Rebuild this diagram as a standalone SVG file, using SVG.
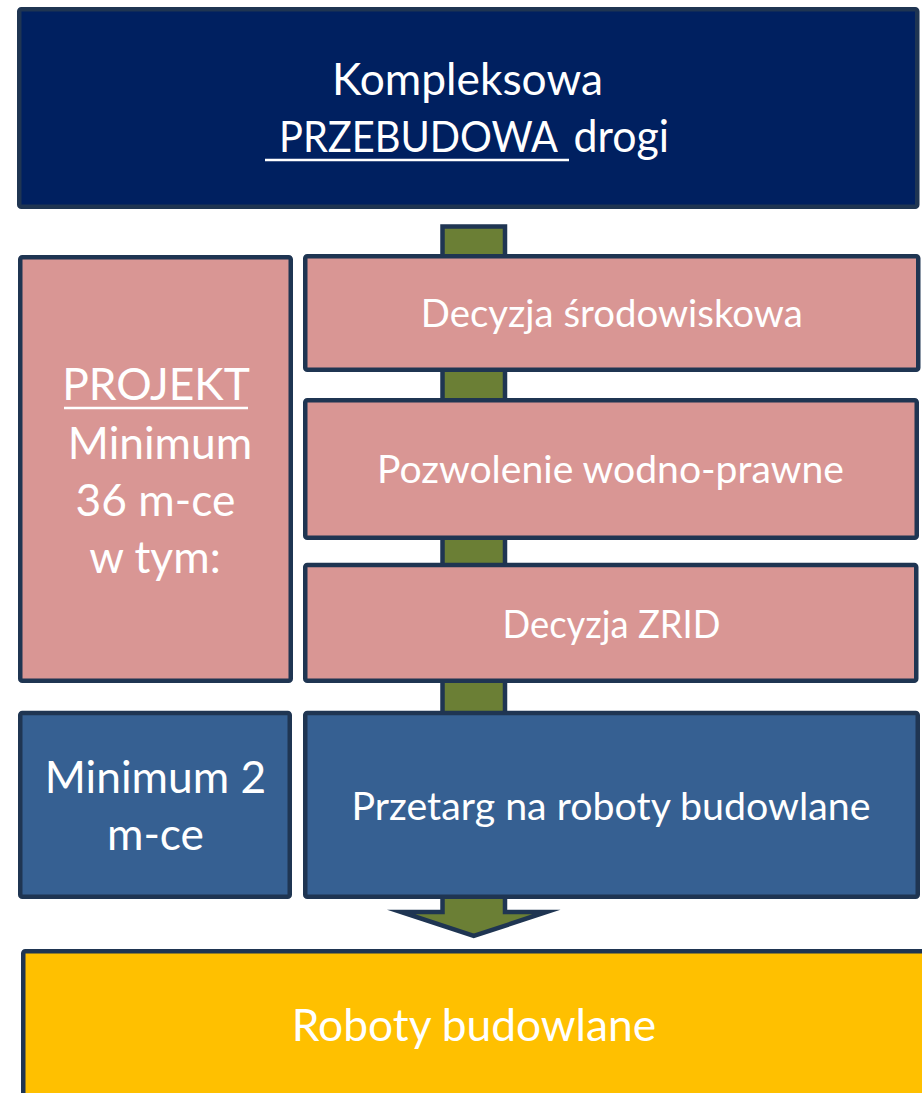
<svg xmlns="http://www.w3.org/2000/svg" width="922" height="1093" viewBox="0 0 922 1093">
<style>
.box{stroke:#1f3552;stroke-width:4.5;stroke-linejoin:round}
.t{font-family:Lato,"Open Sans",sans-serif;fill:#ffffff;text-anchor:middle}
.st{text-anchor:start}
.big{font-size:44.3px}
.sm{font-size:38.5px}
.ul{stroke:#ffffff;stroke-width:2.5}
</style>
<rect width="922" height="1093" fill="#ffffff"/>
<g id="connectors">
<polygon id="flow-arrow" points="442.5,226.5 505,226.5 505,912 546.5,912 473.75,936 401,912 442.5,912" fill="#6b7f35" stroke="#1f3552" stroke-width="4.5" stroke-linejoin="miter" stroke-miterlimit="10"/>
</g>
<g id="node-przebudowa">
<rect class="box" x="19.25" y="9.25" width="898" height="197.5" rx="2" fill="#002060"/>
<text class="t big" x="467.5" y="95">Kompleksowa</text>
<text class="t st" x="279" y="152" font-size="42" textLength="279" lengthAdjust="spacingAndGlyphs">PRZEBUDOWA</text>
<text class="t big st" x="573.5" y="152" textLength="95.5" lengthAdjust="spacingAndGlyphs">drogi</text>
<line class="ul" x1="265" y1="160" x2="569" y2="160"/>
</g>
<g id="node-projekt">
<rect class="box" x="20.25" y="257.25" width="270.5" height="423.5" rx="2" fill="#d99694"/>
<text class="t big" x="156" y="400">PROJEKT</text>
<line class="ul" x1="64" y1="408" x2="248" y2="408"/>
<text class="t big" x="160" y="459">Minimum</text>
<text class="t big" x="155.5" y="516">36 m-ce</text>
<text class="t big" x="155" y="573">w tym:</text>
</g>
<g id="node-decyzja-srodowiskowa">
<rect class="box" x="305.25" y="256.25" width="613" height="113.5" rx="2" fill="#d99694"/>
<text class="t sm" x="611.75" y="327" textLength="382" lengthAdjust="spacingAndGlyphs">Decyzja środowiskowa</text>
</g>
<g id="node-pozwolenie">
<rect class="box" x="305.25" y="400.25" width="611.5" height="137.5" rx="2" fill="#d99694"/>
<text class="t sm" x="610.5" y="483" textLength="467" lengthAdjust="spacingAndGlyphs">Pozwolenie wodno-prawne</text>
</g>
<g id="node-zrid">
<rect class="box" x="305.25" y="565" width="611" height="115.75" rx="2" fill="#d99694"/>
<text class="t sm" x="611.5" y="637.5" textLength="218" lengthAdjust="spacingAndGlyphs">Decyzja ZRID</text>
</g>
<g id="node-minimum2">
<rect class="box" x="20.25" y="713" width="269.5" height="183.75" rx="2" fill="#366092"/>
<text class="t big" x="155.5" y="792.5">Minimum 2</text>
<text class="t big" x="155.5" y="850">m-ce</text>
</g>
<g id="node-przetarg">
<rect class="box" x="305.25" y="713" width="612.5" height="183.75" rx="2" fill="#366092"/>
<text class="t sm" x="611" y="820" textLength="519" lengthAdjust="spacingAndGlyphs">Przetarg na roboty budowlane</text>
</g>
<g id="node-roboty">
<rect class="box" x="23.25" y="951.25" width="910" height="200" rx="2" fill="#ffc000"/>
<text class="t big" x="474" y="1041">Roboty budowlane</text>
</g>
</svg>
